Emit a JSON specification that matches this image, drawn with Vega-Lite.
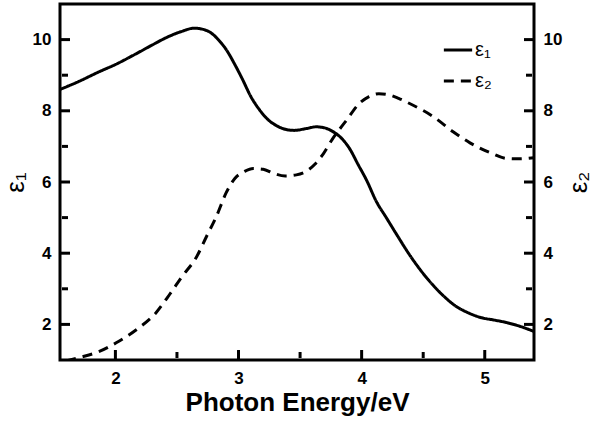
{
  "$schema": "https://vega.github.io/schema/vega-lite/v6.json",
  "width": 474,
  "height": 356,
  "autosize": {"type": "none"},
  "padding": {"left": 60, "top": 4, "right": 66, "bottom": 63},
  "background": "white",
  "config": {
    "font": "Liberation Sans",
    "view": {"stroke": "black", "strokeWidth": 3},
    "axis": {
      "domain": false,
      "grid": false,
      "ticks": false,
      "labelFont": "Liberation Sans",
      "labelFontWeight": "bold",
      "labelFontSize": 17,
      "labelColor": "black",
      "titleColor": "black",
      "titleFont": "Liberation Sans"
    }
  },
  "datasets": {
    "e1": [
      {"E": 1.55, "v": 8.6, "series": "ε₁"},
      {"E": 1.7, "v": 8.82, "series": "ε₁"},
      {"E": 1.87, "v": 9.1, "series": "ε₁"},
      {"E": 2.0, "v": 9.3, "series": "ε₁"},
      {"E": 2.14, "v": 9.55, "series": "ε₁"},
      {"E": 2.3, "v": 9.85, "series": "ε₁"},
      {"E": 2.41, "v": 10.05, "series": "ε₁"},
      {"E": 2.53, "v": 10.22, "series": "ε₁"},
      {"E": 2.64, "v": 10.32, "series": "ε₁"},
      {"E": 2.72, "v": 10.28, "series": "ε₁"},
      {"E": 2.78, "v": 10.18, "series": "ε₁"},
      {"E": 2.84, "v": 9.98, "series": "ε₁"},
      {"E": 2.9, "v": 9.72, "series": "ε₁"},
      {"E": 2.97, "v": 9.3, "series": "ε₁"},
      {"E": 3.03, "v": 8.9, "series": "ε₁"},
      {"E": 3.1, "v": 8.4, "series": "ε₁"},
      {"E": 3.17, "v": 8.03, "series": "ε₁"},
      {"E": 3.24, "v": 7.75, "series": "ε₁"},
      {"E": 3.31, "v": 7.58, "series": "ε₁"},
      {"E": 3.38, "v": 7.48, "series": "ε₁"},
      {"E": 3.45, "v": 7.45, "series": "ε₁"},
      {"E": 3.55, "v": 7.5, "series": "ε₁"},
      {"E": 3.63, "v": 7.55, "series": "ε₁"},
      {"E": 3.7, "v": 7.52, "series": "ε₁"},
      {"E": 3.76, "v": 7.43, "series": "ε₁"},
      {"E": 3.83, "v": 7.25, "series": "ε₁"},
      {"E": 3.9, "v": 6.95, "series": "ε₁"},
      {"E": 3.97, "v": 6.5, "series": "ε₁"},
      {"E": 4.04, "v": 6.05, "series": "ε₁"},
      {"E": 4.12, "v": 5.45, "series": "ε₁"},
      {"E": 4.2, "v": 5.0, "series": "ε₁"},
      {"E": 4.28, "v": 4.55, "series": "ε₁"},
      {"E": 4.39, "v": 3.95, "series": "ε₁"},
      {"E": 4.53, "v": 3.3, "series": "ε₁"},
      {"E": 4.65, "v": 2.85, "series": "ε₁"},
      {"E": 4.77, "v": 2.5, "series": "ε₁"},
      {"E": 4.87, "v": 2.32, "series": "ε₁"},
      {"E": 4.96, "v": 2.2, "series": "ε₁"},
      {"E": 5.08, "v": 2.12, "series": "ε₁"},
      {"E": 5.18, "v": 2.05, "series": "ε₁"},
      {"E": 5.3, "v": 1.93, "series": "ε₁"},
      {"E": 5.4, "v": 1.8, "series": "ε₁"}
    ],
    "e2": [
      {"E": 1.6, "v": 0.97, "series": "ε₂"},
      {"E": 1.71, "v": 1.07, "series": "ε₂"},
      {"E": 1.87, "v": 1.24, "series": "ε₂"},
      {"E": 2.01, "v": 1.49, "series": "ε₂"},
      {"E": 2.17, "v": 1.85, "series": "ε₂"},
      {"E": 2.33, "v": 2.33, "series": "ε₂"},
      {"E": 2.44, "v": 2.84, "series": "ε₂"},
      {"E": 2.54, "v": 3.34, "series": "ε₂"},
      {"E": 2.66, "v": 3.9, "series": "ε₂"},
      {"E": 2.74, "v": 4.47, "series": "ε₂"},
      {"E": 2.82, "v": 5.03, "series": "ε₂"},
      {"E": 2.9, "v": 5.7, "series": "ε₂"},
      {"E": 2.97, "v": 6.1, "series": "ε₂"},
      {"E": 3.05, "v": 6.3, "series": "ε₂"},
      {"E": 3.12, "v": 6.38, "series": "ε₂"},
      {"E": 3.2, "v": 6.36, "series": "ε₂"},
      {"E": 3.28, "v": 6.25, "series": "ε₂"},
      {"E": 3.38, "v": 6.17, "series": "ε₂"},
      {"E": 3.47, "v": 6.2, "series": "ε₂"},
      {"E": 3.55, "v": 6.3, "series": "ε₂"},
      {"E": 3.62, "v": 6.5, "series": "ε₂"},
      {"E": 3.69, "v": 6.8, "series": "ε₂"},
      {"E": 3.76, "v": 7.19, "series": "ε₂"},
      {"E": 3.88, "v": 7.75, "series": "ε₂"},
      {"E": 3.98, "v": 8.2, "series": "ε₂"},
      {"E": 4.06, "v": 8.4, "series": "ε₂"},
      {"E": 4.14, "v": 8.48, "series": "ε₂"},
      {"E": 4.22, "v": 8.45, "series": "ε₂"},
      {"E": 4.3, "v": 8.35, "series": "ε₂"},
      {"E": 4.41, "v": 8.17, "series": "ε₂"},
      {"E": 4.58, "v": 7.84, "series": "ε₂"},
      {"E": 4.74, "v": 7.42, "series": "ε₂"},
      {"E": 4.88, "v": 7.1, "series": "ε₂"},
      {"E": 5.04, "v": 6.83, "series": "ε₂"},
      {"E": 5.18, "v": 6.66, "series": "ε₂"},
      {"E": 5.28, "v": 6.65, "series": "ε₂"},
      {"E": 5.4, "v": 6.68, "series": "ε₂"}
    ],
    "xticks": [{"t": 2}, {"t": 2.5}, {"t": 3}, {"t": 3.5}, {"t": 4}, {"t": 4.5}, {"t": 5}],
    "yticks": [{"t": 2}, {"t": 3}, {"t": 4}, {"t": 5}, {"t": 6}, {"t": 7}, {"t": 8}, {"t": 9}, {"t": 10}]
  },
  "layer": [
    {
      "data": {"name": "e1"},
      "mark": {"type": "line", "interpolate": "monotone", "strokeWidth": 3, "color": "black", "clip": true},
      "encoding": {
        "x": {
          "field": "E", "type": "quantitative",
          "scale": {"domain": [1.55, 5.4], "nice": false, "zero": false},
          "axis": {
            "orient": "bottom",
            "values": [2, 3, 4, 5],
            "format": "d",
            "labelPadding": 10,
            "title": "Photon Energy/eV",
            "titleFontSize": 26,
            "titleFontWeight": "bold",
            "titlePadding": 3
          }
        },
        "y": {
          "field": "v", "type": "quantitative",
          "scale": {"domain": [1, 11], "nice": false, "zero": false},
          "axis": {
            "orient": "left",
            "values": [2, 4, 6, 8, 10],
            "labelPadding": 9,
            "title": "ε₁",
            "titleFontSize": 26,
            "titleFontWeight": "normal",
            "titlePadding": 4
          }
        },
        "strokeDash": {
          "field": "series", "type": "nominal",
          "scale": {"domain": ["ε₁", "ε₂"], "range": [[1, 0], [10, 7]]},
          "legend": {
            "orient": "none",
            "legendX": 382,
            "legendY": 30,
            "title": null,
            "symbolType": "stroke",
            "symbolStrokeWidth": 3,
            "symbolStrokeColor": "black",
            "symbolSize": 800,
            "labelFontSize": 20,
            "labelFont": "Liberation Sans",
            "labelColor": "black",
            "labelOffset": 1,
            "rowPadding": 5
          }
        }
      }
    },
    {
      "data": {"name": "e2"},
      "mark": {"type": "line", "interpolate": "monotone", "strokeWidth": 3, "color": "black", "clip": true},
      "encoding": {
        "x": {"field": "E", "type": "quantitative"},
        "y": {
          "field": "v", "type": "quantitative",
          "axis": {
            "orient": "right",
            "values": [2, 4, 6, 8, 10],
            "labelPadding": 9,
            "title": "ε₂",
            "titleFontSize": 26,
            "titleFontWeight": "normal",
            "titleAngle": -90,
            "titleBaseline": "top",
            "titlePadding": 4
          }
        },
        "strokeDash": {"field": "series", "type": "nominal"}
      }
    },
    {
      "data": {"name": "xticks"},
      "mark": {"type": "tick", "orient": "vertical", "color": "black", "opacity": 1, "thickness": 3},
      "encoding": {
        "x": {"field": "t", "type": "quantitative"},
        "y": {"datum": 1.14, "type": "quantitative", "axis": null},
        "size": {"condition": {"test": "datum.t % 1 === 0", "value": 10}, "value": 6}
      }
    },
    {
      "data": {"name": "yticks"},
      "mark": {"type": "tick", "orient": "horizontal", "color": "black", "opacity": 1, "thickness": 3},
      "encoding": {
        "y": {"field": "t", "type": "quantitative", "axis": null},
        "x": {"datum": 1.5906, "type": "quantitative"},
        "size": {"condition": {"test": "datum.t % 2 === 0", "value": 10}, "value": 6}
      }
    },
    {
      "data": {"name": "yticks"},
      "mark": {"type": "tick", "orient": "horizontal", "color": "black", "opacity": 1, "thickness": 3},
      "encoding": {
        "y": {"field": "t", "type": "quantitative", "axis": null},
        "x": {"datum": 5.3594, "type": "quantitative"},
        "size": {"condition": {"test": "datum.t % 2 === 0", "value": 10}, "value": 6}
      }
    }
  ],
  "resolve": {"axis": {"y": "independent"}}
}
